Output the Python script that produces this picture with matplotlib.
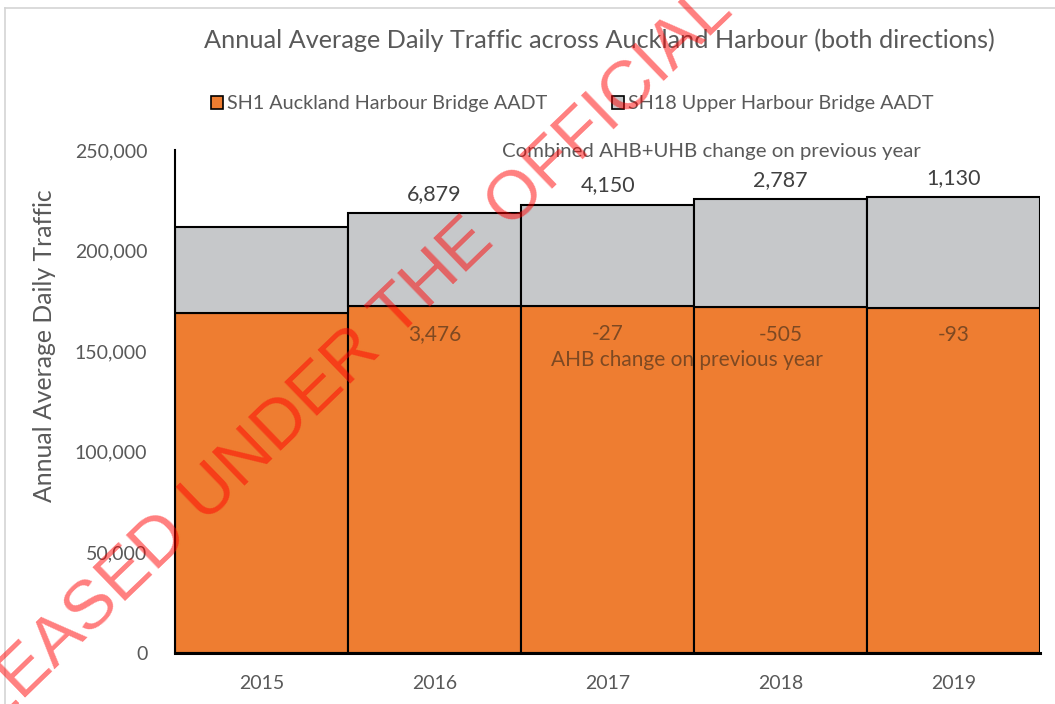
import matplotlib
matplotlib.use("Agg")
import matplotlib.pyplot as plt
from matplotlib.patches import Patch
from matplotlib.lines import Line2D

years = ["2015", "2016", "2017", "2018", "2019"]
sh1_aadt = [168800, 172276, 172249, 171744, 171651]
sh18_aadt = [42850, 46253, 50430, 53722, 54945]
combined_change = [None, 6879, 4150, 2787, 1130]
ahb_change = [None, 3476, -27, -505, -93]
yticks = [0, 50000, 100000, 150000, 200000, 250000]

ORANGE = "#EE7D31"
GRAY = "#C6C8CA"
TXT = "#595959"
BROWN = "#6a4020"
FONT = "Lato"

fig = plt.figure(figsize=(10.55, 7.04), dpi=100)
fig.patch.set_facecolor("white")
ax = fig.add_axes([0.166, 0.0724, 0.820, 0.7145])

x = list(range(len(years)))
ax.bar(x, sh1_aadt, width=1.0, color=ORANGE, edgecolor="black", linewidth=1.5,
       label="SH1 Auckland Harbour Bridge AADT", zorder=2)
ax.bar(x, sh18_aadt, width=1.0, bottom=sh1_aadt, color=GRAY, edgecolor="black",
       linewidth=1.5, label="SH18 Upper Harbour Bridge AADT", zorder=2)

ax.set_xlim(-0.5, 4.5)
ax.set_ylim(0, 250000)
ax.set_yticks(yticks)
ax.set_yticklabels([f"{v:,}" for v in yticks], fontsize=14, color=TXT, family=FONT)
ax.set_xticks(x)
ax.set_xticklabels(years, fontsize=14, color=TXT, family=FONT)
ax.tick_params(axis="x", length=0, pad=15.5)
ax.tick_params(axis="y", length=0, pad=20)
for s in ["top", "right"]:
    ax.spines[s].set_visible(False)
ax.spines["left"].set_linewidth(1.5)
ax.spines["bottom"].set_linewidth(2.2)
ax.spines["bottom"].set_zorder(3)
ax.set_ylabel("Annual Average Daily Traffic", fontsize=17.8, color=TXT, family=FONT)
ax.yaxis.set_label_coords(-0.138, 0.612)

for i in x:
    tot = sh1_aadt[i] + sh18_aadt[i]
    if combined_change[i] is not None:
        ax.annotate(f"{combined_change[i]:,}", (i, tot), xytext=(0, 14),
                    textcoords="offset points", ha="center", va="center",
                    fontsize=15.5, color="#404040", family=FONT, zorder=5)
    if ahb_change[i] is not None:
        ax.annotate(f"{ahb_change[i]:,}", (i, sh1_aadt[i]), xytext=(0, -20),
                    textcoords="offset points", ha="center", va="center",
                    fontsize=15, color=BROWN, family=FONT, alpha=0.85, zorder=5)

fig.text(0.674, 1 - 152 / 704, "Combined AHB+UHB change on previous year",
         ha="center", va="center", fontsize=14.7, color=TXT, family=FONT)
fig.text(0.651, 1 - 360 / 704, "AHB change on previous year",
         ha="center", va="center", fontsize=15, color=BROWN, family=FONT, alpha=0.85)

fig.text(0.568, 1 - 40 / 704,
         "Annual Average Daily Traffic across Auckland Harbour (both directions)",
         ha="center", va="center", fontsize=18.2, color=TXT, family=FONT)

handles = [Patch(facecolor=ORANGE, edgecolor="black", linewidth=1.2),
           Patch(facecolor=GRAY, edgecolor="black", linewidth=1.2)]
fig.legend(handles, ["SH1 Auckland Harbour Bridge AADT", "SH18 Upper Harbour Bridge AADT"],
           loc="center", bbox_to_anchor=(0.5425, 1 - 104 / 704), ncol=2, frameon=False,
           prop={"family": FONT, "size": 14.2}, labelcolor=TXT,
           handlelength=0.6, handleheight=0.6, handletextpad=0.2, columnspacing=3.3)

# screenshot frame
fig.add_artist(Line2D([5 / 1055, 5 / 1055], [0, 1 - 8 / 704], transform=fig.transFigure,
                      color="#d4d4d4", linewidth=1.2))
fig.add_artist(Line2D([5 / 1055, 1], [1 - 8 / 704, 1 - 8 / 704], transform=fig.transFigure,
                      color="#d4d4d4", linewidth=1.2))

# watermark
fig.text(565 / 1055, 1 - 178 / 704, "RELEASED UNDER THE OFFICIAL INFORMATION ACT",
         rotation=44, rotation_mode="anchor", ha="center", va="baseline",
         fontsize=50, family="Liberation Sans", color="red", alpha=0.5, zorder=10)

fig.savefig("out.png", dpi=100)
